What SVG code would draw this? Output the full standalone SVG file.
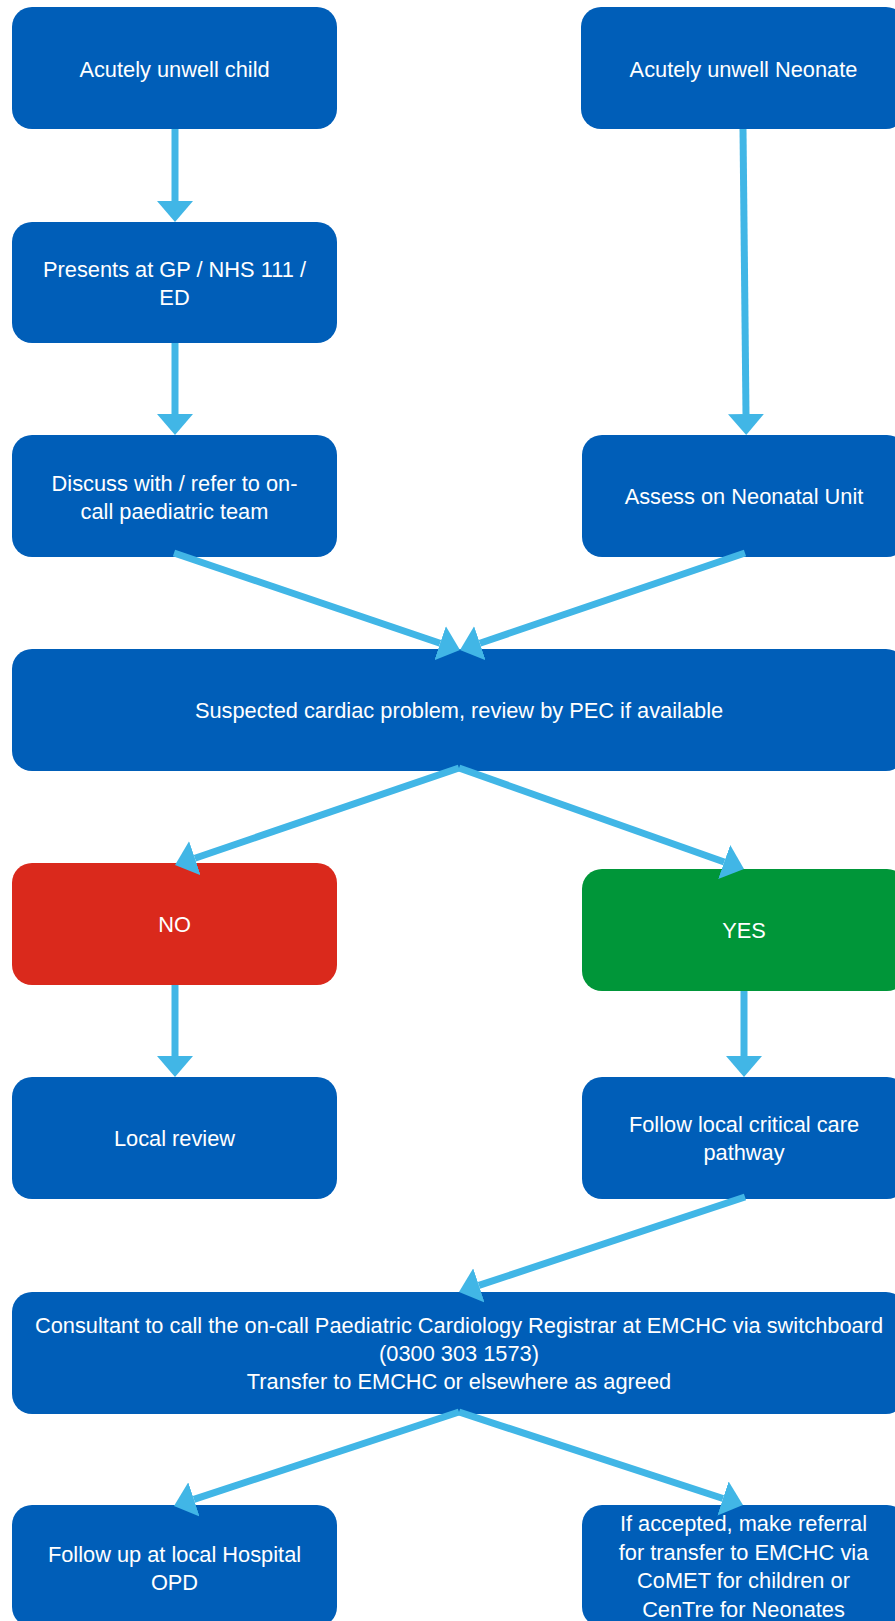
<svg xmlns="http://www.w3.org/2000/svg" width="895" height="1621" viewBox="0 0 895 1621">
<style>
.box{fill:#005EB8;}
.no{fill:#DA291C;}
.yes{fill:#009639;}
text{font-family:"Liberation Sans",Arial,sans-serif;font-size:21.8px;fill:#FFFFFF;text-anchor:middle;}
.conn{stroke:#41B6E6;stroke-width:7;fill:none;marker-end:url(#ah);}
</style>
<defs>
<marker id="ah" markerUnits="userSpaceOnUse" viewBox="0 0 21 36" refX="0" refY="18" markerWidth="21" markerHeight="36" orient="auto">
<path d="M0,0 L21,18 L0,36 Z" fill="#41B6E6"/>
</marker>
</defs>
<rect width="895" height="1621" fill="#FFFFFF"/>
<g id="n-child"><rect class="box" x="12" y="7" width="325" height="122" rx="20"/><text x="174.5" y="77">Acutely unwell child</text></g>
<g id="n-neonate"><rect class="box" x="581" y="7" width="325" height="122" rx="20"/><text x="743.5" y="77">Acutely unwell Neonate</text></g>
<g id="n-presents"><rect class="box" x="12" y="222" width="325" height="121" rx="20"/><text x="174.5" y="277">Presents at GP / NHS 111 /</text><text x="174.5" y="305">ED</text></g>
<g id="n-discuss"><rect class="box" x="12" y="435" width="325" height="122" rx="20"/><text x="174.5" y="491">Discuss with / refer to on-</text><text x="174.5" y="519">call paediatric team</text></g>
<g id="n-assess"><rect class="box" x="582" y="435" width="325" height="122" rx="20"/><text x="744" y="504">Assess on Neonatal Unit</text></g>
<g id="n-suspected"><rect class="box" x="12" y="649" width="894" height="122" rx="20"/><text x="459" y="718">Suspected cardiac problem, review by PEC if available</text></g>
<g id="n-no"><rect class="no" x="12" y="863" width="325" height="122" rx="20"/><text x="174.5" y="931.5">NO</text></g>
<g id="n-yes"><rect class="yes" x="582" y="869" width="325" height="122" rx="20"/><text x="744" y="937.5">YES</text></g>
<g id="n-local"><rect class="box" x="12" y="1077" width="325" height="122" rx="20"/><text x="174.5" y="1146">Local review</text></g>
<g id="n-critical"><rect class="box" x="582" y="1077" width="325" height="122" rx="20"/><text x="744" y="1132">Follow local critical care</text><text x="744" y="1160">pathway</text></g>
<g id="n-consultant"><rect class="box" x="12" y="1292" width="894" height="122" rx="20"/><text x="459" y="1333">Consultant to call the on-call Paediatric Cardiology Registrar at EMCHC via switchboard</text><text x="459" y="1361">(0300 303 1573)</text><text x="459" y="1389">Transfer to EMCHC or elsewhere as agreed</text></g>
<g id="n-followup"><rect class="box" x="12" y="1505" width="325" height="122" rx="20"/><text x="174.5" y="1561.5">Follow up at local Hospital</text><text x="174.5" y="1589.5">OPD</text></g>
<g id="n-referral"><rect class="box" x="582" y="1505" width="325" height="122" rx="20"/><text x="743.5" y="1531">If accepted, make referral</text><text x="743.5" y="1559.5">for transfer to EMCHC via</text><text x="743.5" y="1588">CoMET for children or</text><text x="743.5" y="1616.5">CenTre for Neonates</text></g>
<g id="connectors">
<line class="conn" x1="175" y1="129" x2="175" y2="201"/>
<line class="conn" x1="175" y1="343" x2="175" y2="414"/>
<line class="conn" x1="743" y1="129" x2="746" y2="414"/>
<line class="conn" x1="174" y1="553" x2="440.1" y2="643.3"/>
<line class="conn" x1="745" y1="553" x2="479.9" y2="643.2"/>
<line class="conn" x1="459" y1="768" x2="194.9" y2="858.2"/>
<line class="conn" x1="459" y1="768" x2="724.2" y2="862"/>
<line class="conn" x1="175" y1="985" x2="175" y2="1056"/>
<line class="conn" x1="744" y1="991" x2="744" y2="1056"/>
<line class="conn" x1="745" y1="1197" x2="478.9" y2="1285.4"/>
<line class="conn" x1="459" y1="1412" x2="193.9" y2="1499.4"/>
<line class="conn" x1="459" y1="1412" x2="723" y2="1498.5"/>
</g>
</svg>
